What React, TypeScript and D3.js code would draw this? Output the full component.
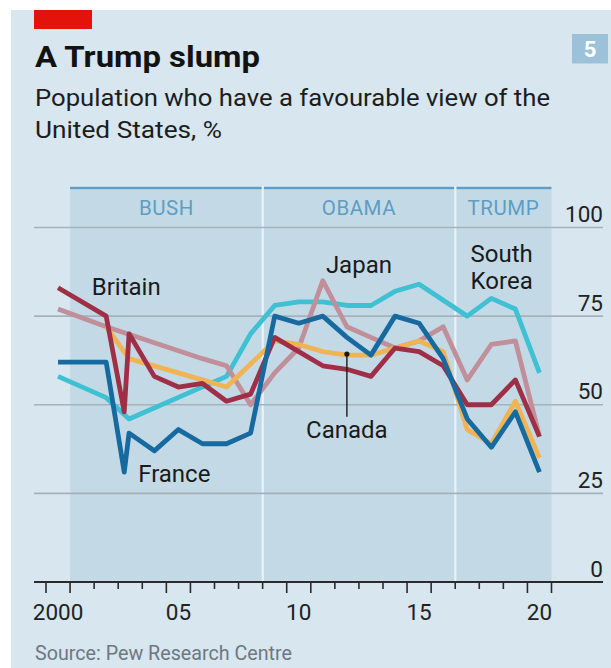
import * as d3 from 'd3'

// Pew favourability of the United States, % (year = mid-year survey; 2002.75 / 2002.95 = March / May 2003)
const britain: [number, number][] = [
  [2000, 83], [2002, 75], [2002.75, 48], [2002.95, 70], [2004, 58], [2005, 55], [2006, 56], [2007, 51],
  [2008, 53], [2009, 69], [2010, 65], [2011, 61], [2012, 60], [2013, 58], [2014, 66], [2015, 65],
  [2016, 61], [2017, 50], [2018, 50], [2019, 57], [2020, 41]
]
const france: [number, number][] = [
  [2000, 62], [2002, 62], [2002.75, 31], [2002.95, 42], [2004, 37], [2005, 43], [2006, 39], [2007, 39],
  [2008, 42], [2009, 75], [2010, 73], [2011, 75], [2012, 69], [2013, 64], [2014, 75], [2015, 73],
  [2016, 63], [2017, 46], [2018, 38], [2019, 48], [2020, 31]
]
const canada: [number, number][] = [
  [2002, 72], [2002.95, 63], [2005, 59], [2007, 55], [2009, 68], [2010, 67], [2011, 65], [2012, 64],
  [2013, 64], [2015, 68], [2016, 65], [2017, 43], [2018, 39], [2019, 51], [2020, 35]
]
const japan: [number, number][] = [
  [2000, 77], [2002, 72], [2006, 63], [2007, 61], [2008, 50], [2009, 59], [2010, 66], [2011, 85],
  [2012, 72], [2013, 69], [2014, 66], [2015, 68], [2016, 72], [2017, 57], [2018, 67], [2019, 68], [2020, 41]
]
const southKorea: [number, number][] = [
  [2000, 58], [2002, 52], [2002.95, 46], [2007, 58], [2008, 70], [2009, 78], [2010, 79], [2011, 79],
  [2012, 78], [2013, 78], [2014, 82], [2015, 84], [2017, 75], [2018, 80], [2019, 77], [2020, 59]
]

// drawn bottom to top
const series = [
  { name: 'South Korea', data: southKorea, color: '#3fc0d3' },
  { name: 'Japan', data: japan, color: '#c08f9a' },
  { name: 'Canada', data: canada, color: '#f0b455' },
  { name: 'Britain', data: britain, color: '#9f2f46' },
  { name: 'France', data: france, color: '#176aa0' }
]

const presidencies = [
  { label: 'BUSH', start: 2001, end: 2009 },
  { label: 'OBAMA', start: 2009, end: 2017 },
  { label: 'TRUMP', start: 2017, end: 2021 }
]

const yTicks = [0, 25, 50, 75, 100]
const xLabels = [
  { year: 2000, text: '2000' },
  { year: 2005, text: '05' },
  { year: 2010, text: '10' },
  { year: 2015, text: '15' },
  { year: 2020, text: '20' }
]

// label anchors in data units (x = year boundary scale)
const labels = [
  { text: ['Britain'], year: 2001.9, value: 81, anchor: 'start' },
  { text: ['France'], year: 2003.83, value: 28.3, anchor: 'start' },
  { text: ['Japan'], year: 2013.0, value: 87.3, anchor: 'middle' },
  { text: ['South', 'Korea'], year: 2018.93, value: 90.4, anchor: 'middle' }
]

const FONT = 'Roboto, "Noto Sans", sans-serif'

export default function App() {
  const W = 611
  const H = 668
  const left = 34
  const right = 603
  const top = 188
  const bottom = 582

  const x = d3.scaleLinear().domain([2000, 2021]).range([46, 551.5])
  const y = d3.scaleLinear().domain([0, 100]).range([bottom, 227.5])
  const mid = (yr: number) => x(yr + 0.5)

  const line = d3.line<[number, number]>()
    .x(d => mid(d[0]))
    .y(d => y(d[1]))

  const yearTicks = d3.range(2000, 2022)
  const isLong = (yr: number) => yr % 5 === 0 || yr % 5 === 1

  const canadaDot = { year: 2012, value: 64.3 }

  return (
    <svg width={W} height={H} style={{ position: 'absolute', left: 0, top: 0, fontFamily: FONT }}>
      <rect x={0} y={0} width={W} height={H} fill="#ffffff" />
      <rect x={11} y={10} width={W - 11} height={H - 10} fill="#d7e6ef" />
      <rect x={34} y={10} width={58} height={19} fill="#e3120b" />

      <rect x={572} y={34} width={36} height={29.5} fill="#9cc2d9" />
      <text x={590} y={57} textAnchor="middle" fill="#ffffff" fontSize={22} fontWeight={700}>5</text>

      <text x={35} y={66.5} fontSize={30} fontWeight={700} fill="#121212" textLength={225} lengthAdjust="spacingAndGlyphs">
        A Trump slump
      </text>
      <text x={35} y={106} fontSize={24.5} fill="#1d1d1d" textLength={515} lengthAdjust="spacingAndGlyphs">
        Population who have a favourable view of the
      </text>
      <text x={35} y={138.3} fontSize={24.5} fill="#1d1d1d" textLength={187} lengthAdjust="spacingAndGlyphs">
        United States, %
      </text>

      {/* presidency bands */}
      {presidencies.map(p => (
        <g key={p.label}>
          <rect x={x(p.start)} y={top} width={x(p.end) - x(p.start)} height={bottom - top} fill="#c3dae6" />
          <rect x={x(p.start)} y={top - 1.2} width={x(p.end) - x(p.start)} height={2.4} fill="#5f9ec3" />
          <text x={(x(p.start) + x(p.end)) / 2} y={215} textAnchor="middle" fontSize={20.5} fill="#5e9dc2"
            letterSpacing={0.5}>
            {p.label}
          </text>
        </g>
      ))}
      {presidencies.slice(1).map(p => (
        <rect key={'sep' + p.label} x={x(p.start) - 1} y={top - 2} width={2.2} height={bottom - top + 2} fill="#e9f2f7" />
      ))}

      {/* gridlines */}
      {yTicks.filter(t => t > 0).map(t => (
        <line key={t} x1={left} x2={right} y1={y(t)} y2={y(t)} stroke="#a6b2ba" strokeWidth={1.6} />
      ))}
      {yTicks.map(t => (
        <text key={'l' + t} x={right} y={y(t) - 5.5} textAnchor="end" fontSize={22.5} fill="#222">
          {t}
        </text>
      ))}

      {/* series */}
      {series.map(s => (
        <path key={s.name} d={line(s.data) ?? ''} fill="none" stroke={s.color} strokeWidth={4.8}
          strokeLinejoin="round" strokeLinecap="butt" />
      ))}

      {/* labels */}
      {labels.map(l => (
        <text key={l.text.join()} x={x(l.year)} y={y(l.value)} textAnchor={l.anchor} fontSize={24} fill="#1a1a1a">
          {l.text.map((t, i) => (
            <tspan key={t} x={x(l.year)} dy={i === 0 ? 0 : 27.6}>{t}</tspan>
          ))}
        </text>
      ))}
      <line x1={mid(canadaDot.year)} x2={mid(canadaDot.year)} y1={y(canadaDot.value)} y2={416.7} stroke="#1a1a1a" strokeWidth={1.4} />
      <circle cx={mid(canadaDot.year)} cy={y(canadaDot.value)} r={2.6} fill="#1a1a1a" />
      <text x={mid(canadaDot.year)} y={438.3} textAnchor="middle" fontSize={24} fill="#1a1a1a">Canada</text>

      {/* x axis */}
      <line x1={left} x2={right} y1={bottom} y2={bottom} stroke="#2a2a2a" strokeWidth={2} />
      {yearTicks.map(yr => (
        <line key={yr} x1={x(yr)} x2={x(yr)} y1={bottom} y2={bottom + (isLong(yr) ? 11 : 7)} stroke="#2a2a2a" strokeWidth={1.6} />
      ))}
      {xLabels.map(l => (
        <text key={l.text} x={mid(l.year)} y={620} textAnchor="middle" fontSize={22.5} fill="#222">
          {l.text}
        </text>
      ))}

      <text x={35} y={660} fontSize={21} fill="#6d7880" textLength={257} lengthAdjust="spacingAndGlyphs">
        Source: Pew Research Centre
      </text>
    </svg>
  )
}
